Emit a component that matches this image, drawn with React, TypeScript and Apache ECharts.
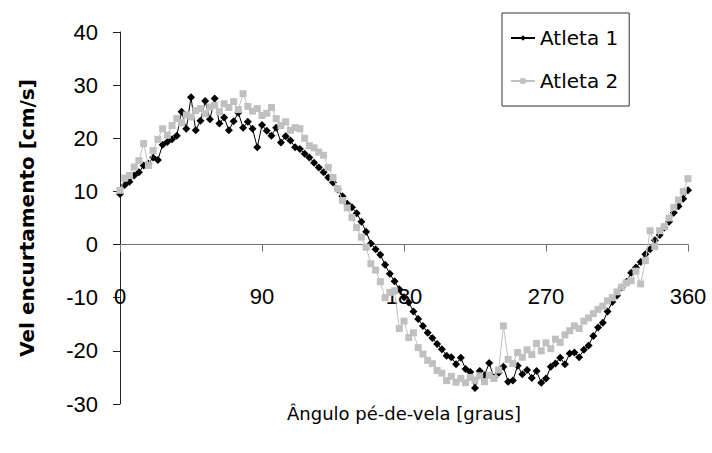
import React, { useEffect, useRef } from "react";
import * as echarts from "echarts";

const angles: number[] = [];
for (let a = 0; a <= 360; a += 3) angles.push(a);

const atleta1: number[] = [
  9.5, 11.2, 11.8, 13.0, 13.6, 14.9, 15.2, 16.4, 15.9, 18.8,
  19.3, 19.8, 20.5, 25.0, 21.8, 27.7, 21.5, 23.3, 27.0, 23.6,
  27.5, 22.8, 23.9, 21.5, 23.2, 24.8, 22.0, 23.1, 21.8, 18.3,
  22.5, 21.4, 20.5, 22.0, 19.2, 20.4, 19.6, 18.3, 18.0, 17.1,
  16.4, 15.4, 14.5, 13.6, 12.6, 11.7, 10.4, 9.1, 7.7, 7.0,
  5.9, 4.3, 2.4, 0.2, -0.9, -1.9, -3.8, -5.5, -6.9, -8.4,
  -9.9, -10.9, -12.6, -14.0, -15.3, -16.6, -17.6, -18.7, -19.7, -20.9,
  -21.2, -22.5, -21.3, -23.4, -24.0, -27.0, -23.8, -24.6, -22.3, -25.0,
  -24.1, -23.0, -25.8, -25.6, -22.8, -24.4, -23.6, -25.1, -23.8, -26.0,
  -25.2, -23.0, -22.4, -21.3, -22.5, -20.5, -20.3, -21.2, -19.8, -19.0,
  -17.2, -15.6, -14.7, -12.6, -10.8, -9.6, -8.1, -7.0, -5.3, -4.3,
  -3.3, -1.8, -0.9, 0.8, 1.8, 3.2, 4.3, 6.0, 7.2, 8.6,
  10.2,
];

const atleta2: number[] = [
  10.2, 12.5, 13.0, 14.6, 15.8, 19.0, 14.9, 17.7, 19.8, 21.8,
  20.6, 22.4, 23.7, 22.9, 24.4, 24.0, 25.2, 25.6, 24.6, 25.9,
  26.2, 25.0, 26.5, 25.8, 26.9, 25.4, 28.4, 26.0, 25.1, 25.6,
  24.3, 24.7, 25.8, 23.7, 22.4, 23.1, 21.5, 22.0, 21.8, 20.0,
  18.6, 18.2, 17.4, 16.8, 14.5, 12.6, 10.5, 8.3, 6.9, 5.1,
  3.2, 1.4, -0.5, -3.6, -4.8, -7.0, -10.0, -9.0, -8.7, -15.8,
  -14.4, -17.5, -16.6, -19.4, -20.6, -21.8, -22.4, -23.7, -24.2, -25.6,
  -24.8, -25.9, -25.2, -26.0, -25.0, -25.5, -24.7, -25.8, -24.6, -25.2,
  -23.6, -15.3, -21.6, -22.4, -20.3, -21.2, -19.8, -20.7, -18.6, -20.0,
  -18.5, -19.6, -17.8, -18.4, -17.0, -16.2, -15.3, -15.8, -14.4, -13.8,
  -13.0, -12.2, -11.6, -10.6, -10.0, -8.9, -8.0, -7.2, -6.8, -5.0,
  -7.4, -3.0, 2.6, -0.4, 2.6, 3.4, 5.0, 7.0, 8.4, 10.0,
  12.4,
];

const seriesNames = ["Atleta 1", "Atleta 2"];
const xTitle = "Ângulo pé-de-vela [graus]";
const yTitle = "Vel encurtamento [cm/s]";

const nameFont = "'DejaVu Sans', 'Noto Sans', sans-serif";
const tickFont = "'Liberation Sans', Arial, sans-serif";

export default function App() {
  const ref = useRef<HTMLDivElement>(null);
  useEffect(() => {
    document.body.style.margin = "0";
    if (!ref.current) return;
    const chart = echarts.init(ref.current, null, { renderer: "svg" });
    const pairs = (vals: number[]) => angles.map((a, i) => [a, vals[i]]);
    chart.setOption({
      animation: false,
      backgroundColor: "#ffffff",
      grid: {
        left: 120,
        right: 24,
        top: 32,
        bottom: 49,
        containLabel: false,
        outerBoundsMode: "none",
      },
      legend: {
        orient: "vertical",
        left: 502,
        top: 13,
        padding: [13, 11, 13, 8],
        itemGap: 19,
        itemWidth: 24,
        itemHeight: 7,
        borderColor: "#333",
        borderWidth: 1,
        textStyle: { fontFamily: nameFont, fontSize: 20, color: "#000", lineHeight: 24 },
        data: seriesNames,
      },
      xAxis: {
        type: "value",
        min: 0,
        max: 360,
        interval: 90,
        name: xTitle,
        nameLocation: "middle",
        nameGap: 0,
        nameTextStyle: { fontFamily: nameFont, fontSize: 18, color: "#000" },
        axisLine: { onZero: true, lineStyle: { color: "#707070", width: 1 } },
        axisTick: { show: true, length: 7, inside: false, lineStyle: { color: "#707070" } },
        axisLabel: { fontFamily: tickFont, fontSize: 22, color: "#000", margin: -119 },
        splitLine: { show: false },
      },
      yAxis: {
        type: "value",
        min: -30,
        max: 40,
        interval: 10,
        name: yTitle,
        nameLocation: "middle",
        nameGap: 83,
        nameRotate: 90,
        nameTextStyle: { fontFamily: nameFont, fontSize: 20, fontWeight: "bold", color: "#000" },
        axisLine: { show: true, onZero: false, lineStyle: { color: "#222", width: 1 } },
        axisTick: { show: true, length: 7, inside: false, lineStyle: { color: "#222" } },
        axisLabel: { fontFamily: tickFont, fontSize: 22, color: "#000", margin: 22 },
        splitLine: { show: false },
      },
      series: [
        {
          name: seriesNames[0],
          type: "line",
          data: pairs(atleta1),
          symbol: "diamond",
          symbolSize: 8,
          showAllSymbol: true,
          color: "#000000",
          lineStyle: { color: "#000000", width: 1 },
          itemStyle: { color: "#000000" },
          z: 2,
        },
        {
          name: seriesNames[1],
          type: "line",
          data: pairs(atleta2),
          symbol: "rect",
          symbolSize: 7,
          showAllSymbol: true,
          color: "#c0c0c0",
          lineStyle: { color: "#c0c0c0", width: 1 },
          itemStyle: { color: "#c0c0c0" },
          z: 3,
        },
      ],
    });
    return () => chart.dispose();
  }, []);
  return <div ref={ref} style={{ width: 712, height: 453 }} />;
}
